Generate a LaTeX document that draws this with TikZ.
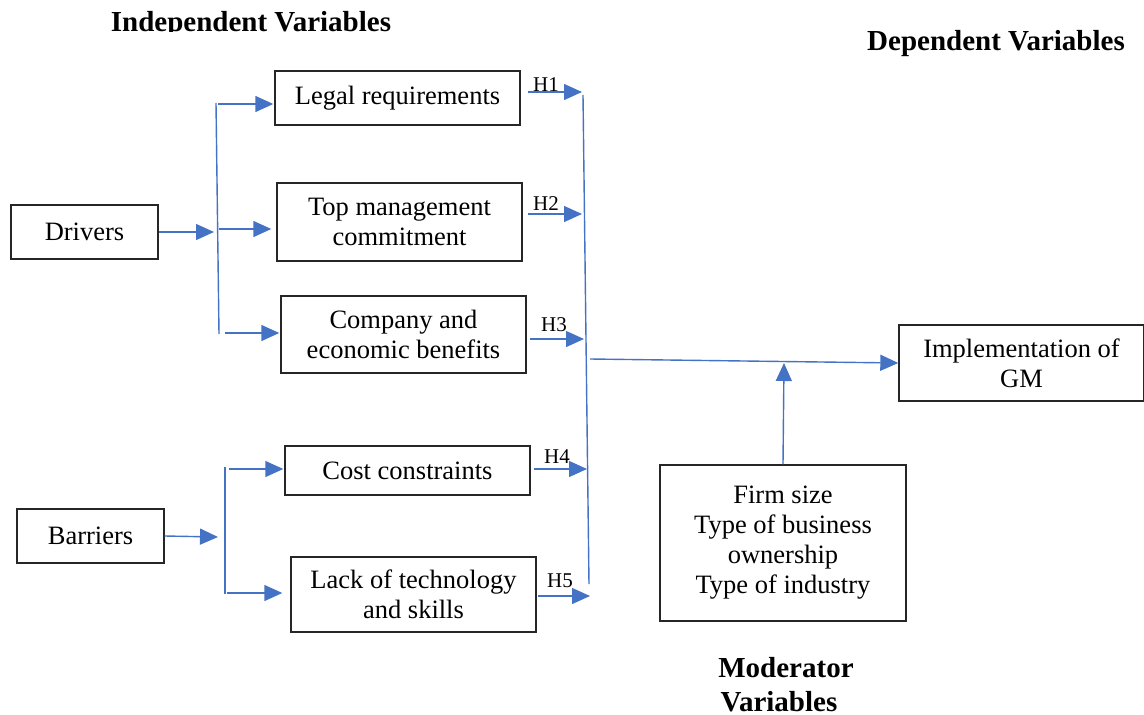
\documentclass[tikz,border=0pt]{standalone}
\usepackage{fontspec}
\setmainfont{Liberation Serif}
\usetikzlibrary{arrows.meta}
\definecolor{lineblue}{HTML}{4472C4}
\begin{document}
\begin{tikzpicture}[x=1pt,y=-1pt,
  box/.style={draw=black!85, line width=1.4pt, align=center, inner sep=0pt,
    font=\fontsize{26.5}{30}\selectfont},
  wide/.style={box, minimum width=245pt},
  small/.style={box, minimum width=147pt, minimum height=54pt},
  title/.style={font=\fontsize{29}{34}\selectfont\bfseries, inner sep=0pt, align=center},
  hlab/.style={font=\fontsize{21}{23}\selectfont, inner sep=0pt},
  link/.style={lineblue, line width=1.4pt},
  arr/.style={link, -{Triangle[length=18pt,width=16pt]}}]
\useasboundingbox (0,0) rectangle (1144,715);

% headings
\begin{scope}
  \clip (0,0) rectangle (600,31.5);
  \node[title, anchor=base] (indep) at (251,31) {Independent Variables};
\end{scope}
\node[title, anchor=base] (dep) at (996,50) {Dependent Variables};
\node[title, anchor=base] (modtitle) at (786,677) {Moderator};
\node[title, anchor=base] (modtitle2) at (779,711) {Variables};

% boxes
\node[small] (drivers) at (84.5,232) {Drivers};
\node[small] (barriers) at (90.5,536) {Barriers};
\node[wide, minimum height=54pt] (legal) at (397.5,98) {Legal requirements};
\node[wide, minimum height=78pt] (top) at (399.5,222) {Top management\\commitment};
\node[wide, minimum height=77pt] (company) at (403.5,334.5) {Company and\\economic benefits};
\node[wide, minimum height=49pt] (cost) at (407.5,470.5) {Cost constraints};
\node[wide, minimum height=75pt] (lack) at (413.5,594.5) {Lack of technology\\and skills};
\node[wide, minimum height=76pt] (impl) at (1021.5,363) {Implementation of\\GM};
\node[box, minimum width=246pt, minimum height=156pt] (mod) at (783,543)
  {Firm size\\Type of business\\ownership\\Type of industry};

% drivers fan-out
\coordinate (dIn) at (214,232);
\coordinate (dTop) at (216,103);
\coordinate (dBot) at (219,334);
\coordinate (d1) at (218,104);
\coordinate (d2) at (219,229);
\coordinate (d3) at (225,333);
\draw[arr] (drivers.east) -- (dIn);
\draw[link] (dTop) -- (dBot);
\draw[arr, shorten >=1pt] (d1) -- (d1 -| legal.west);
\draw[arr, shorten >=5pt] (d2) -- (d2 -| top.west);
\draw[arr, shorten >=1pt] (d3) -- (d3 -| company.west);

% barriers fan-out
\coordinate (bIn) at (218,537);
\coordinate (bTop) at (225,467);
\coordinate (bBot) at (225,594);
\coordinate (b1) at (229,469);
\coordinate (b2) at (227,593);
\draw[arr] (barriers.east) -- (bIn);
\draw[link] (bTop) -- (bBot);
\draw[arr, shorten >=1pt] (b1) -- (b1 -| cost.west);
\draw[arr, shorten >=8pt] (b2) -- (b2 -| lack.west);

% hypotheses into the collector line
\coordinate (cTop) at (583,95);
\coordinate (cBot) at (589,584);
\coordinate (h1) at (582,92);
\coordinate (h2) at (582,214);
\coordinate (h3) at (584,339);
\coordinate (h4) at (587,469);
\coordinate (h5) at (590,596);
\draw[link] (cTop) -- (cBot);
\draw[arr, shorten <=7pt] (h1 -| legal.east) -- (h1);
\draw[arr, shorten <=5pt] (h2 -| top.east) -- (h2);
\draw[arr, shorten <=3pt] (h3 -| company.east) -- (h3);
\draw[arr, shorten <=3pt] (h4 -| cost.east) -- (h4);
\draw[arr, shorten <=1pt] (h5 -| lack.east) -- (h5);
\node[hlab, anchor=base] (lh1) at (546,91) {H1};
\node[hlab, anchor=base] (lh2) at (546,210) {H2};
\node[hlab, anchor=base] (lh3) at (554,331) {H3};
\node[hlab, anchor=base] (lh4) at (557,463) {H4};
\node[hlab, anchor=base] (lh5) at (560,587) {H5};

% outcome and moderation
\coordinate (out) at (590,359);
\coordinate (modTip) at (784,363);
\draw[arr] (out) -- (impl.west);
\draw[arr] (mod.north) -- (modTip);
\end{tikzpicture}
\end{document}
